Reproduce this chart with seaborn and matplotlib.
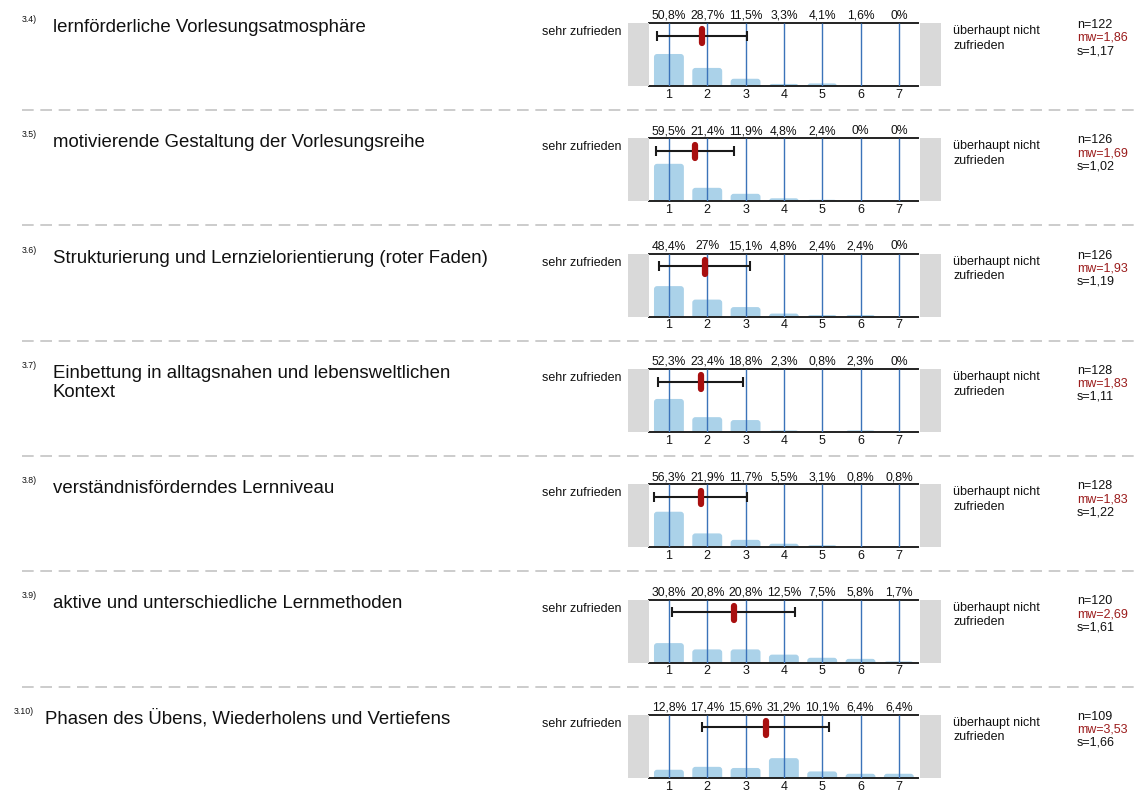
import numpy as np
import pandas as pd
import matplotlib
matplotlib.use("Agg")
import matplotlib.pyplot as plt
from matplotlib.patches import Rectangle, FancyBboxPatch
from matplotlib.lines import Line2D
import seaborn as sns

sns.set_theme(style="white")
plt.rcParams['font.family'] = ['Liberation Sans', 'DejaVu Sans']

# ---------------- data ----------------
numbers = ["3.4)", "3.5)", "3.6)", "3.7)", "3.8)", "3.9)", "3.10)"]
labels = [
    "lernförderliche Vorlesungsatmosphäre",
    "motivierende Gestaltung der Vorlesungsreihe",
    "Strukturierung und Lernzielorientierung (roter Faden)",
    "Einbettung in alltagsnahen und lebensweltlichen\nKontext",
    "verständnisförderndes Lernniveau",
    "aktive und unterschiedliche Lernmethoden",
    "Phasen des Übens, Wiederholens und Vertiefens",
]
scale = ["1", "2", "3", "4", "5", "6", "7"]
pct_34 = [50.8, 28.7, 11.5, 3.3, 4.1, 1.6, 0]
pct_35 = [59.5, 21.4, 11.9, 4.8, 2.4, 0, 0]
pct_36 = [48.4, 27, 15.1, 4.8, 2.4, 2.4, 0]
pct_37 = [52.3, 23.4, 18.8, 2.3, 0.8, 2.3, 0]
pct_38 = [56.3, 21.9, 11.7, 5.5, 3.1, 0.8, 0.8]
pct_39 = [30.8, 20.8, 20.8, 12.5, 7.5, 5.8, 1.7]
pct_310 = [12.8, 17.4, 15.6, 31.2, 10.1, 6.4, 6.4]
percents = [pct_34, pct_35, pct_36, pct_37, pct_38, pct_39, pct_310]
n_vals = [122, 126, 126, 128, 128, 120, 109]
mw_vals = [1.86, 1.69, 1.93, 1.83, 1.83, 2.69, 3.53]
s_vals = [1.17, 1.02, 1.19, 1.11, 1.22, 1.61, 1.66]
left_pole = "sehr zufrieden"
right_pole = "überhaupt nicht\nzufrieden"

# ---------------- layout helpers ----------------
W, H = 1135, 800
fig = plt.figure(figsize=(W / 100, H / 100), dpi=100)
fig.patch.set_facecolor("white")


def fx(x):
    return x / W


def fy(y):
    return 1 - y / H


def fmt_pct(v):
    s = f"{v:.1f}".rstrip("0").rstrip(".")
    return s.replace(".", ",") + "%"


def fmt_num(v):
    return f"{v:.2f}".replace(".", ",")


BAR = "#abd2e9"
VLINE = "#3b73b9"
GRAY = "#d9d9d9"
RED = "#a80f0f"
MWRED = "#9b1c1c"
TXT = "#111111"
ROW = 115.3

for i in range(7):
    off = i * ROW
    top, bot = 23 + off, 86 + off
    ax = fig.add_axes([fx(649), fy(bot), (918 - 649) / W, (bot - top) / H])
    df = pd.DataFrame({"Antwort": scale, "Prozent": percents[i]})
    sns.barplot(data=df, x="Antwort", y="Prozent", color=BAR, saturation=1,
                width=0.78, ax=ax, zorder=2)
    ax.set_xlim(-0.52, 6.5)
    ax.set_ylim(0, 100)
    # round the top corners of the seaborn bars
    for p in list(ax.patches):
        x0, w, h = p.get_x(), p.get_width(), p.get_height()
        p.set_visible(False)
        if h <= 0:
            continue
        rb = FancyBboxPatch((x0, -6), w, h + 6,
                            boxstyle="round,pad=0,rounding_size=0.08",
                            mutation_aspect=61, facecolor=BAR, edgecolor="none",
                            zorder=2, clip_on=True)
        ax.add_patch(rb)
    ax.vlines(range(7), 0, 100, color=VLINE, lw=1, zorder=3)
    ax.errorbar(mw_vals[i] - 1, 80, xerr=s_vals[i], color="#1a1a1a", lw=1.5,
                capsize=3.5, capthick=1.5, zorder=4)
    ax.plot([mw_vals[i] - 1] * 2, [68, 90], color=RED, lw=4.5,
            solid_capstyle="round", zorder=5)
    for j, v in enumerate(percents[i]):
        ax.annotate(fmt_pct(v), (j, 100), xytext=(0, 3),
                    textcoords="offset points", ha="center", va="baseline",
                    fontsize=8.7, color=TXT)
    ax.set_yticks([])
    ax.set_xticks(range(7))
    ax.set_xticklabels(scale)
    ax.tick_params(axis="x", length=0, labelsize=9, pad=2, colors=TXT)
    ax.set_xlabel("")
    ax.set_ylabel("")
    ax.set_facecolor("white")
    for side in ["left", "right"]:
        ax.spines[side].set_visible(False)
    for side in ["top", "bottom"]:
        ax.spines[side].set_visible(True)
        ax.spines[side].set_color("#222222")
        ax.spines[side].set_linewidth(1.4)

    # gray end boxes
    fig.add_artist(Rectangle((fx(628), fy(bot)), 21 / W, 63 / H,
                             transform=fig.transFigure, color=GRAY, lw=0))
    fig.add_artist(Rectangle((fx(919.5), fy(bot)), 21.5 / W, 63 / H,
                             transform=fig.transFigure, color=GRAY, lw=0))

    # pole labels
    fig.text(fx(621), fy(32 + off), left_pole, ha="right", va="center",
             fontsize=9, color=TXT)
    fig.text(fx(953), fy(25 + off), right_pole, ha="left", va="top",
             fontsize=9, color=TXT, linespacing=1.3)

    # statistics
    fig.text(fx(1077), fy(25 + off), f"n={n_vals[i]}", ha="left", va="center",
             fontsize=9, color=TXT)
    fig.text(fx(1077), fy(38 + off), f"mw={fmt_num(mw_vals[i])}", ha="left",
             va="center", fontsize=9, color=MWRED)
    fig.text(fx(1077), fy(51 + off), f"s={fmt_num(s_vals[i])}", ha="left",
             va="center", fontsize=9, color=TXT)

    # item number and label
    nx = 22 if i < 6 else 14
    lx = 53 if i < 6 else 45
    extra_lines = labels[i].count("\n")
    fig.text(fx(nx), fy(22 + off), numbers[i], ha="left", va="baseline",
             fontsize=6.3, color=TXT)
    fig.text(fx(lx), fy(32 + off + extra_lines * 19.5), labels[i], ha="left",
             va="baseline", fontsize=13.4, color=TXT, linespacing=1.16)

# dashed separators
for i in range(6):
    y = 110 + i * ROW
    fig.add_artist(Line2D([fx(22), fx(1135)], [fy(y), fy(y)],
                          transform=fig.transFigure, color="#c4c4c4",
                          lw=1.2, dashes=(7, 4)))

fig.savefig("out.png", dpi=100, facecolor="white")
